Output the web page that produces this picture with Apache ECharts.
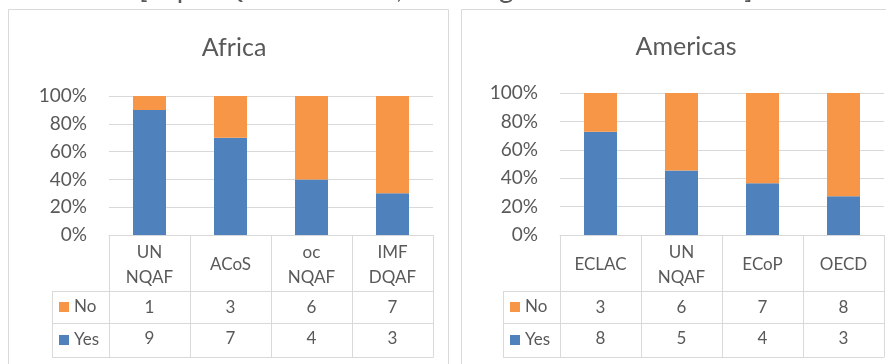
<!DOCTYPE html>
<html>
<head>
<meta charset="utf-8">
<script src="https://cdn.jsdelivr.net/npm/echarts@6/dist/echarts.min.js"></script>
<style>html,body{margin:0;padding:0;background:#fff}#c{width:886px;height:364px}</style>
</head>
<body>
<div id="c"></div>
<script>
// ---- data ----
const pageTitle = '[Top NQAF elements, each region and framework]';
const regions = ['Africa', 'Americas'];
const africaCategories = ['UN\nNQAF', 'ACoS', 'oc\nNQAF', 'IMF\nDQAF'];
const africaNo = [1, 3, 6, 7];
const africaYes = [9, 7, 4, 3];
const americasCategories = ['ECLAC', 'UN\nNQAF', 'ECoP', 'OECD'];
const americasNo = [3, 6, 7, 8];
const americasYes = [8, 5, 4, 3];
const seriesNames = ['No', 'Yes'];
const yTickStep = 20;

// ---- styling / layout ----
const FONT = 'Lato';
const TXT = '#595959';
const LINE = '#d9d9d9';
const BLUE = '#4f81bd';
const ORANGE = '#f79646';
const panels = [
  { x: 8, w: 440, titleX: 234, titleTop: 35, grid: { left: 109, top: 96, height: 139 }, legendX: 52, iconX: 59 },
  { x: 461, w: 450, titleX: 686, titleTop: 34, grid: { left: 560, top: 93, height: 142 }, legendX: 503, iconX: 510 }
];
const colW = 81;
const rowH = [56, 32, 34];

const sets = [
  { cats: africaCategories, no: africaNo, yes: africaYes },
  { cats: americasCategories, no: americasNo, yes: americasYes }
];
function share(part, other) { return part.map((v, i) => v / (v + other[i]) * 100); }

const grids = [], xAxes = [], yAxes = [], series = [], titles = [], legends = [], graphics = [];
panels.forEach((p, k) => {
  const d = sets[k];
  const gw = colW * d.cats.length;
  grids.push({ left: p.grid.left, top: p.grid.top, width: gw, height: p.grid.height });
  const base = xAxes.length;
  const lbl = { fontFamily: FONT, fontSize: 17, color: TXT, interval: 0, verticalAlign: 'middle' };
  xAxes.push({ type: 'category', gridIndex: k, data: d.cats, position: 'bottom',
    axisLine: { show: true, lineStyle: { color: LINE, width: 1 } },
    axisTick: { show: true, length: rowH[0] + rowH[1] + rowH[2], lineStyle: { color: LINE, width: 1 } },
    axisLabel: Object.assign({}, lbl, { margin: rowH[0] / 2 + 2, lineHeight: 25 }) });
  xAxes.push({ type: 'category', gridIndex: k, data: d.cats, position: 'bottom',
    axisLine: { show: false }, axisTick: { show: false },
    axisLabel: Object.assign({}, lbl, { margin: rowH[0] + rowH[1] / 2 + 1, formatter: (v, i) => String(d.no[i]) }) });
  xAxes.push({ type: 'category', gridIndex: k, data: d.cats, position: 'bottom',
    axisLine: { show: false }, axisTick: { show: false },
    axisLabel: Object.assign({}, lbl, { margin: rowH[0] + rowH[1] + rowH[2] / 2 - 1, formatter: (v, i) => String(d.yes[i]) }) });
  yAxes.push({ type: 'value', gridIndex: k, min: 0, max: 100, interval: yTickStep,
    axisLine: { show: false }, axisTick: { show: false },
    splitLine: { lineStyle: { color: LINE, width: 1 } },
    axisLabel: { formatter: '{value}%', fontFamily: FONT, fontSize: 19, color: TXT, margin: 22 } });
  series.push({ name: 'Yes', type: 'bar', stack: 's' + k, xAxisIndex: base, yAxisIndex: k,
    data: share(d.yes, d.no), barWidth: 33, itemStyle: { color: BLUE }, silent: true });
  series.push({ name: 'No', type: 'bar', stack: 's' + k, xAxisIndex: base, yAxisIndex: k,
    data: share(d.no, d.yes), barWidth: 33, itemStyle: { color: ORANGE }, silent: true });
  titles.push({ text: regions[k], left: p.titleX, top: p.titleTop, textAlign: 'center', padding: 0,
    textStyle: { fontFamily: FONT, fontSize: 25, fontWeight: 'normal', color: TXT } });
  const tableTop = p.grid.top + p.grid.height;
  legends.push({ orient: 'vertical', left: p.iconX, top: tableTop + rowH[0] + rowH[1] / 2 - 10, padding: 0,
    itemGap: 33 - 20, itemWidth: 10, itemHeight: 10, icon: 'rect', selectedMode: false,
    data: seriesNames, textStyle: { fontFamily: FONT, fontSize: 17, color: TXT, lineHeight: 20 } });
  // panel frame
  graphics.push({ type: 'rect', shape: { x: p.x + 0.5, y: 9.5, width: p.w, height: 400 },
    style: { fill: 'none', stroke: LINE, lineWidth: 1 }, z: -1 });
  // table row separators and legend column edge
  const xR = p.grid.left + gw;
  const ys = [tableTop + rowH[0], tableTop + rowH[0] + rowH[1], tableTop + rowH[0] + rowH[1] + rowH[2]];
  ys.forEach(yy => graphics.push({ type: 'line', shape: { x1: p.legendX, y1: yy + 0.5, x2: xR + 0.5, y2: yy + 0.5 },
    style: { stroke: LINE, lineWidth: 1 } }));
  graphics.push({ type: 'line', shape: { x1: p.legendX + 0.5, y1: ys[0], x2: p.legendX + 0.5, y2: ys[2] + 1 },
    style: { stroke: LINE, lineWidth: 1 } });
});
graphics.push({ type: 'text', style: { text: pageTitle, x: 446, y: 3, textAlign: 'center', textVerticalAlign: 'bottom',
  font: '28px ' + FONT, fill: TXT } });

const chart = echarts.init(document.getElementById('c'), null, { renderer: 'canvas' });
chart.setOption({
  animation: false,
  backgroundColor: '#fff',
  title: titles,
  legend: legends,
  grid: grids,
  xAxis: xAxes,
  yAxis: yAxes,
  series: series,
  graphic: graphics
});
</script>
</body>
</html>
